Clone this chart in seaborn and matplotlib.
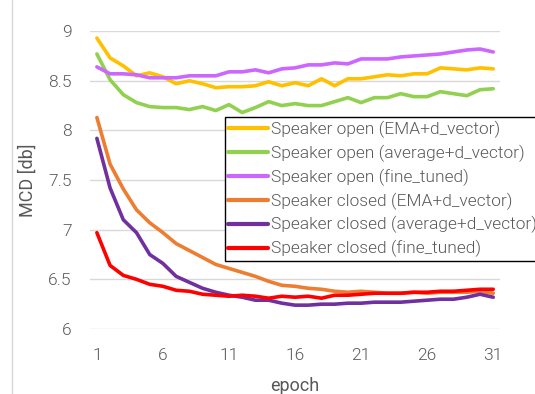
import pandas as pd
import matplotlib
matplotlib.use("Agg")
import matplotlib.pyplot as plt
from matplotlib.lines import Line2D
import seaborn as sns

# data
epochs = list(range(1, 32))

open_ema = [8.93, 8.73, 8.65, 8.55, 8.58, 8.54, 8.47, 8.50, 8.47, 8.43,
            8.44, 8.44, 8.45, 8.49, 8.45, 8.48, 8.45, 8.52, 8.45, 8.52,
            8.52, 8.54, 8.56, 8.55, 8.57, 8.57, 8.63, 8.62, 8.61, 8.63, 8.62]
open_avg = [8.77, 8.51, 8.36, 8.28, 8.24, 8.23, 8.23, 8.21, 8.24, 8.20,
            8.26, 8.18, 8.23, 8.29, 8.25, 8.27, 8.25, 8.25, 8.29, 8.33,
            8.28, 8.33, 8.33, 8.37, 8.34, 8.34, 8.39, 8.37, 8.35, 8.41, 8.42]
open_ft = [8.64, 8.57, 8.57, 8.56, 8.53, 8.53, 8.53, 8.55, 8.55, 8.55,
           8.59, 8.59, 8.61, 8.58, 8.62, 8.63, 8.66, 8.66, 8.68, 8.67,
           8.72, 8.72, 8.72, 8.74, 8.75, 8.76, 8.77, 8.79, 8.81, 8.82, 8.79]
closed_ema = [8.13, 7.66, 7.41, 7.20, 7.07, 6.97, 6.86, 6.79, 6.72, 6.65,
              6.61, 6.57, 6.53, 6.48, 6.44, 6.43, 6.41, 6.40, 6.38, 6.37,
              6.38, 6.37, 6.36, 6.36, 6.37, 6.36, 6.37, 6.37, 6.37, 6.38, 6.36]
closed_avg = [7.92, 7.42, 7.10, 6.97, 6.75, 6.66, 6.53, 6.47, 6.41, 6.37,
              6.34, 6.32, 6.29, 6.29, 6.26, 6.24, 6.24, 6.25, 6.25, 6.26,
              6.26, 6.27, 6.27, 6.27, 6.28, 6.29, 6.30, 6.30, 6.32, 6.35, 6.32]
closed_ft = [6.97, 6.64, 6.54, 6.50, 6.45, 6.43, 6.39, 6.38, 6.35, 6.34,
             6.33, 6.34, 6.33, 6.31, 6.33, 6.32, 6.33, 6.31, 6.34, 6.34,
             6.35, 6.36, 6.36, 6.36, 6.37, 6.37, 6.38, 6.38, 6.39, 6.40, 6.40]

series_names = ["Speaker open (EMA+d_vector)",
                "Speaker open (average+d_vector)",
                "Speaker open (fine_tuned)",
                "Speaker closed (EMA+d_vector)",
                "Speaker closed (average+d_vector)",
                "Speaker closed (fine_tuned)"]
series_values = [open_ema, open_avg, open_ft, closed_ema, closed_avg, closed_ft]
colors = ["#FFC000", "#92D050", "#CC66FF", "#ED7D31", "#7030A0", "#FF0000"]

rows = []
for name, vals in zip(series_names, series_values):
    for e, v in zip(epochs, vals):
        rows.append({"epoch": e, "MCD": v, "series": name})
df = pd.DataFrame(rows)

sns.set_style("white")
plt.rcParams["font.family"] = ["Roboto", "DejaVu Sans"]
plt.rcParams["font.weight"] = 300
grey = "#595959"

fig = plt.figure(figsize=(5.35, 3.94), dpi=100)
ax = fig.add_axes([0.168, 0.165, 0.767, 0.756])

sns.lineplot(data=df, x="epoch", y="MCD", hue="series", hue_order=series_names,
             palette=colors, linewidth=2.6, ax=ax, legend=True)

ax.set_xlim(0.47, 31.53)
ax.set_ylim(6, 9)
ax.set_xticks([1, 6, 11, 16, 21, 26, 31])
ax.set_yticks([6, 6.5, 7, 7.5, 8, 8.5, 9])
ax.set_yticklabels(["6", "6.5", "7", "7.5", "8", "8.5", "9"])
ax.grid(axis="y", color="#D9D9D9", linewidth=1)
ax.set_axisbelow(True)
for s in ax.spines.values():
    s.set_visible(False)
ax.tick_params(axis="both", length=0, labelsize=12.5, colors=grey)
ax.tick_params(axis="x", pad=14)
ax.tick_params(axis="y", pad=13)

ax.set_xlabel("epoch", fontsize=13, color=grey, labelpad=10)
ax.set_ylabel("MCD [db]", fontsize=13, color=grey, labelpad=8)

handles, labels = ax.get_legend_handles_labels()
leg = ax.legend(handles, labels, loc="upper left",
                bbox_to_anchor=(225 / 535, 1 - 117 / 394),
                bbox_transform=fig.transFigure,
                frameon=True, fancybox=False, framealpha=1,
                edgecolor="black", fontsize=12.5, handlelength=2.3,
                handletextpad=0.15, labelspacing=0.39, borderpad=0.2,
                borderaxespad=0)
leg.get_frame().set_linewidth(1)
for t in leg.get_texts():
    t.set_color(grey)
for l in leg.get_lines():
    l.set_linewidth(3)

# faint chart-area border on the left
fig.add_artist(Line2D([12 / 535, 12 / 535], [0, 1], transform=fig.transFigure,
                      color="#D9D9D9", linewidth=1))

fig.savefig("out.png", dpi=100)
